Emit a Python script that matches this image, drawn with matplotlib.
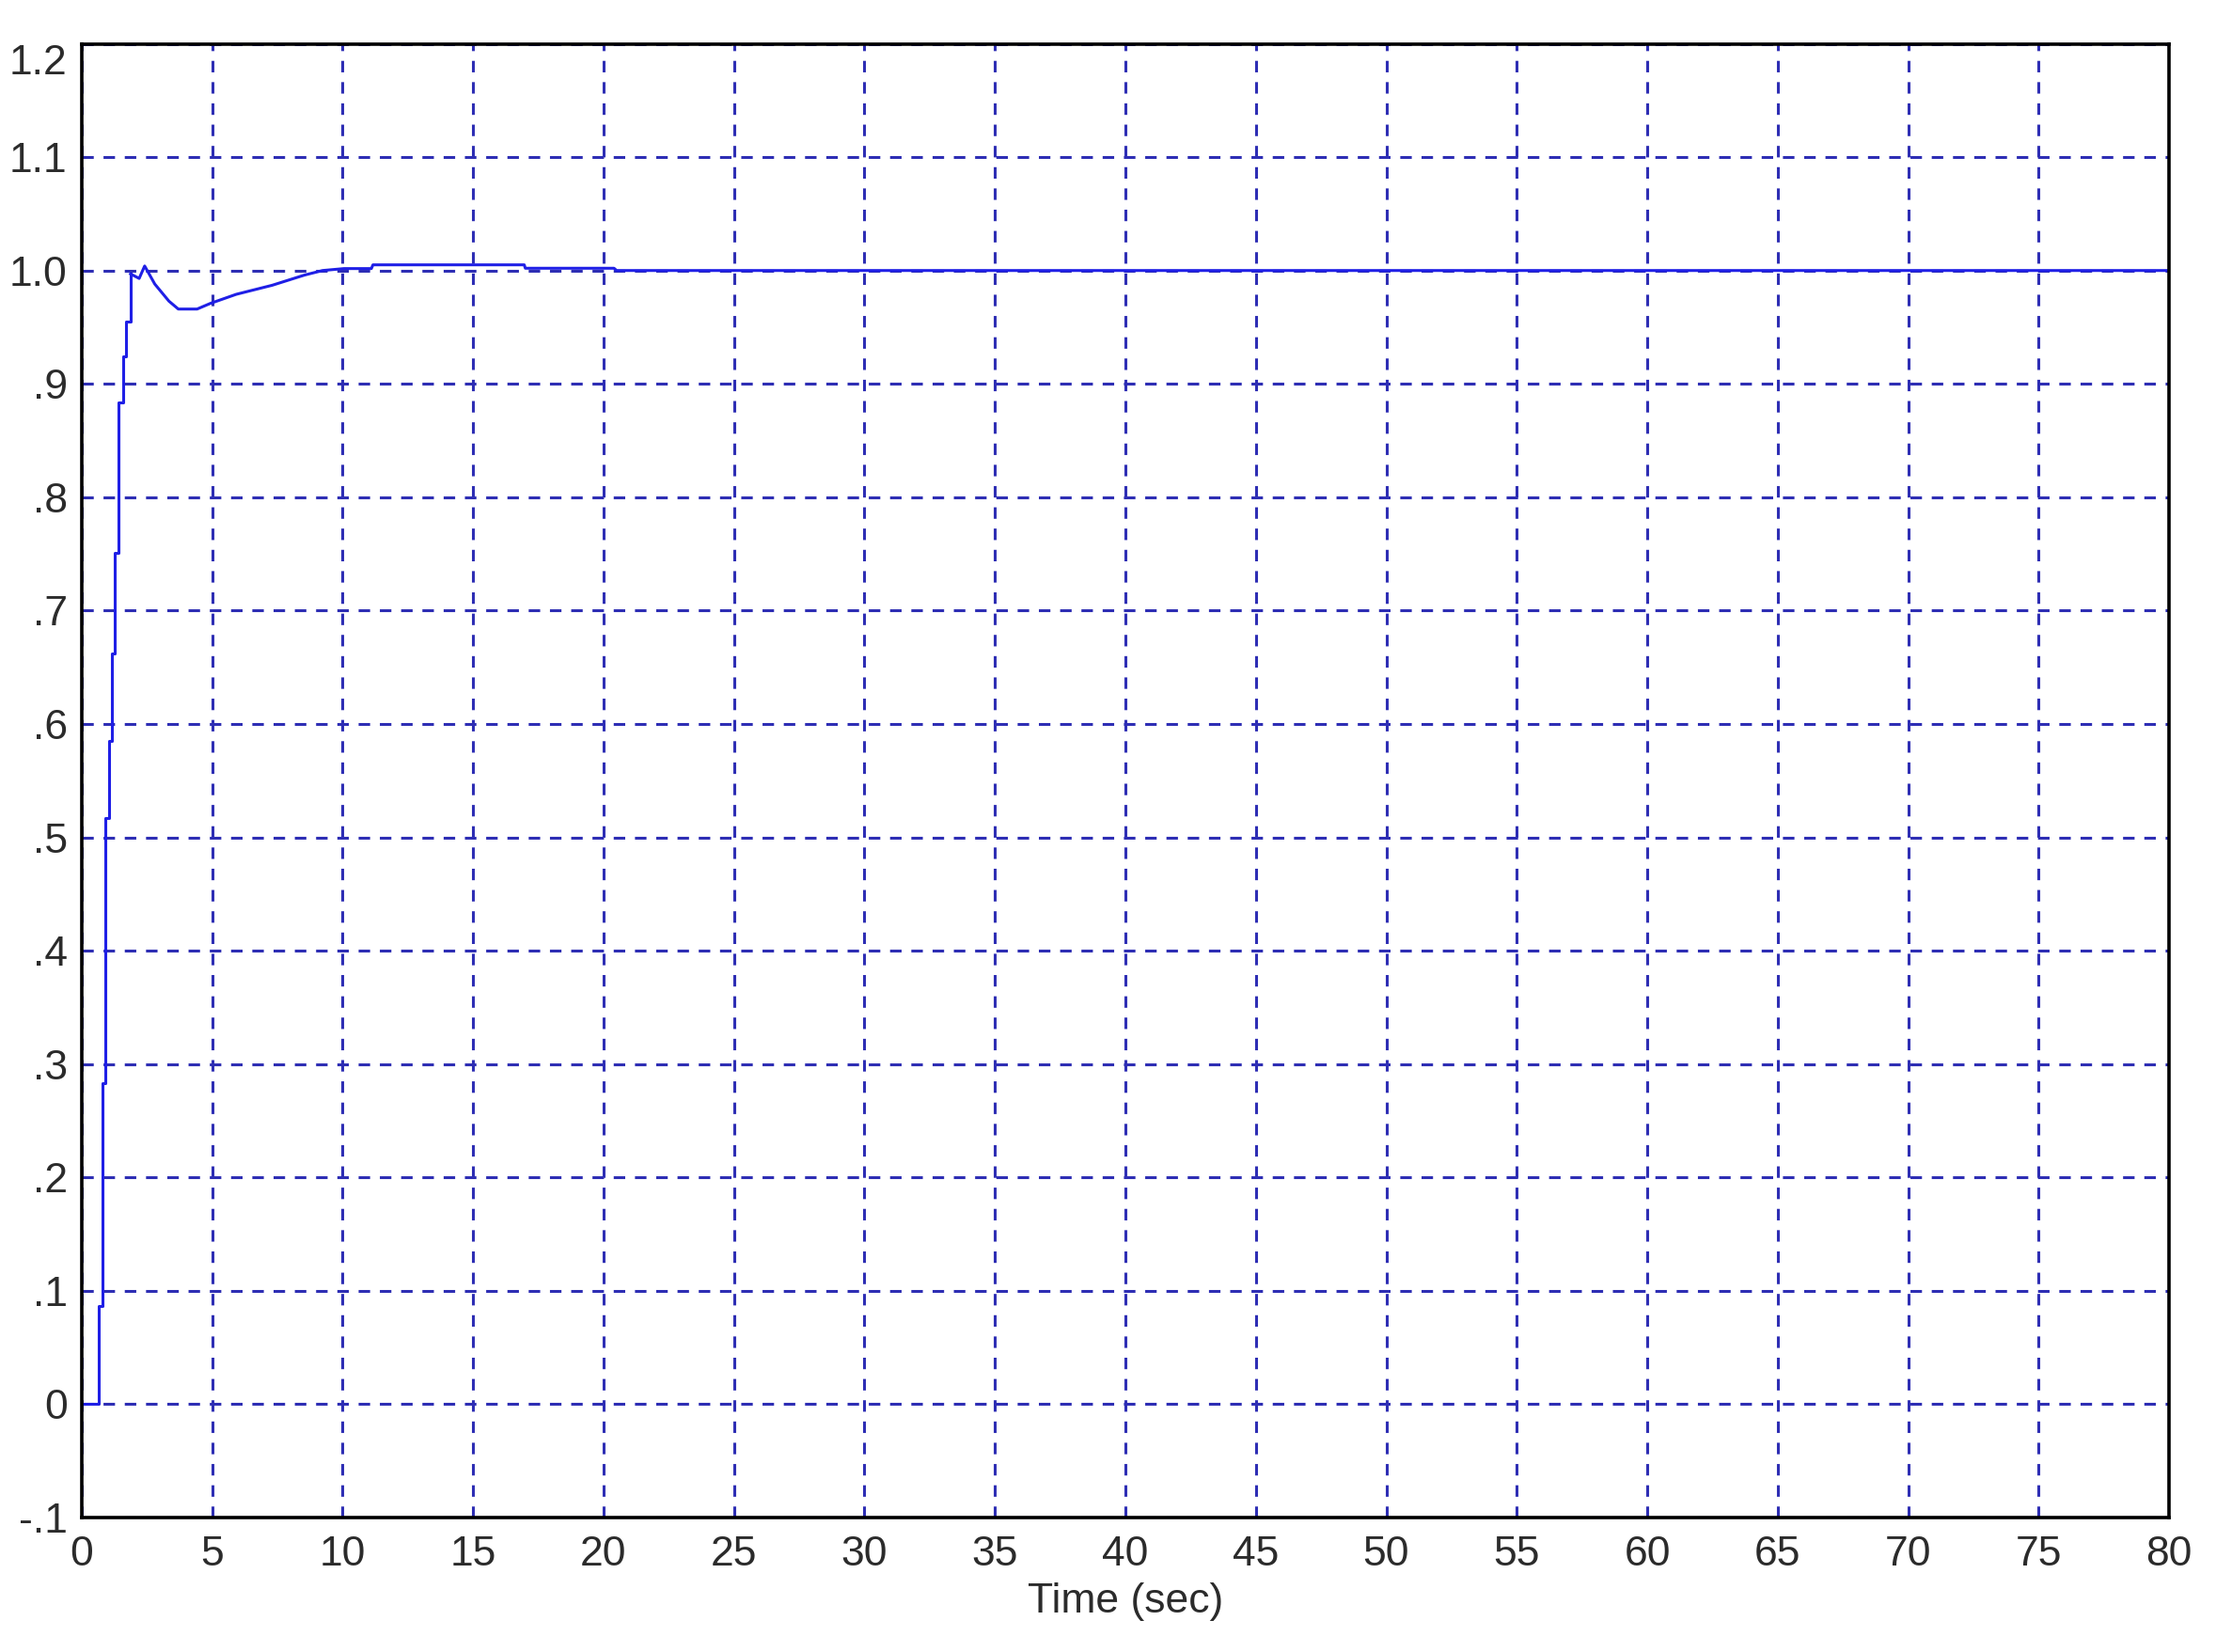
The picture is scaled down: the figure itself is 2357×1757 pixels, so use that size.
import numpy as np
import matplotlib
matplotlib.use('Agg')
import matplotlib.pyplot as plt

# step response
# rising part is a staircase (sampled output)
rise_t = [0.0, 0.65, 0.80, 0.91, 1.04, 1.16, 1.28, 1.40, 1.57, 1.68, 1.87]
rise_y = [0.0, 0.087, 0.283, 0.517, 0.585, 0.662, 0.751, 0.884, 0.924, 0.955, 0.997]

# settling part
settle_t = [1.87, 2.20, 2.41, 2.80, 3.34, 3.70, 4.42, 4.93, 5.92, 7.30, 8.54,
            9.23, 10.05, 11.10, 11.16, 16.96, 17.00, 20.40, 20.50, 80.0]
settle_y = [0.997, 0.993, 1.004, 0.988, 0.973, 0.966, 0.966, 0.971, 0.979, 0.987, 0.996,
            1.000, 1.0017, 1.0017, 1.005, 1.005, 1.002, 1.002, 1.000, 1.000]

x_ticks = list(range(0, 81, 5))
y_ticks = [-0.1, 0.0, 0.1, 0.2, 0.3, 0.4, 0.5, 0.6, 0.7, 0.8, 0.9, 1.0, 1.1, 1.2]
y_labels = ['-.1', '0', '.1', '.2', '.3', '.4', '.5', '.6', '.7', '.8', '.9',
            '1.0', '1.1', '1.2']

plt.rcParams['font.family'] = ['Liberation Sans', 'DejaVu Sans']

fig = plt.figure(figsize=(23.57, 17.57), dpi=100)
ax = fig.add_axes([0.0369, 0.0814, 0.9419, 0.8921])

line_col = '#1f1fe6'
ax.step(rise_t, rise_y, where='post', color=line_col, lw=2.2)
ax.plot(settle_t, settle_y, color=line_col, lw=2.2)

ax.set_xlim(0, 80)
ax.set_ylim(-0.1, 1.2)
ax.set_xticks(x_ticks)
ax.set_xticklabels([str(v) for v in x_ticks])
ax.set_yticks(y_ticks)
ax.set_yticklabels(y_labels)

ax.grid(True, color='#2e2eb4', lw=2.2, linestyle=(0, (4, 3.4)))
ax.set_axisbelow(True)

for s in ax.spines.values():
    s.set_linewidth(2.6)
    s.set_color('black')

ax.tick_params(length=0, labelsize=32, labelcolor='#2b2b2b')
ax.tick_params(axis='x', pad=14)
ax.tick_params(axis='y', pad=11)
ax.get_yticklabels()[-1].set_verticalalignment('top')

ax.set_xlabel('Time (sec)', fontsize=32, color='#2b2b2b', labelpad=6)

fig.savefig('out.png', dpi=100, facecolor='white')
